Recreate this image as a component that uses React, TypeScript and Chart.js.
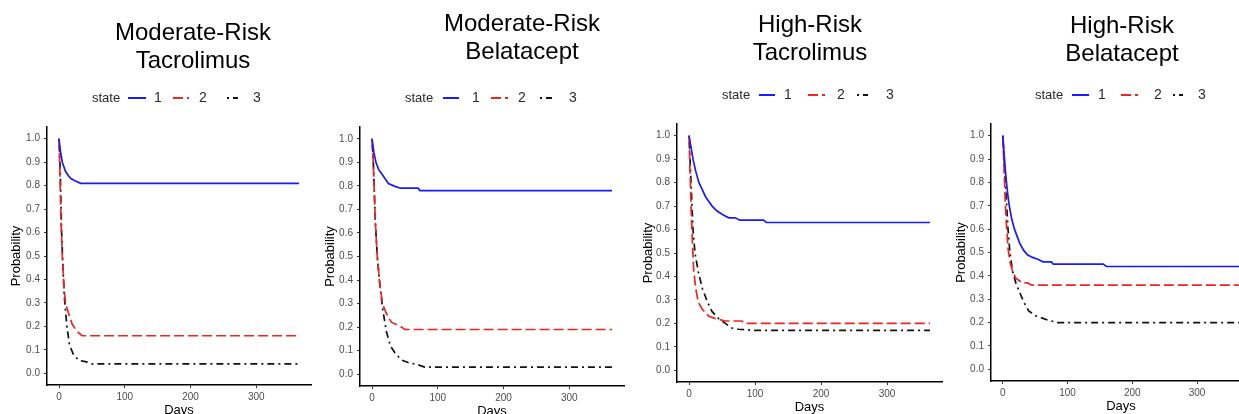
import React, { useEffect, useRef } from "react";
import { Chart, registerables } from "chart.js";

Chart.register(...registerables);

// ---- axis ticks & ranges ----
const X_TICKS = [0, 100, 200, 300];
const Y_TICKS = [0, 0.1, 0.2, 0.3, 0.4, 0.5, 0.6, 0.7, 0.8, 0.9, 1.0];
const X_MIN = -18.25;
const X_MAX = 383.25;
const Y_MIN = -0.05;
const Y_MAX = 1.05;
const STATE_LABELS = ["1", "2", "3"];
const LEGEND_TITLE = "state";
const X_TITLE = "Days";
const Y_TITLE = "Probability";

// ---- Moderate-Risk Tacrolimus ----
const mtDays1 = [0, 2, 5, 10, 15, 18, 25, 33, 365];
const mtProb1 = [1, 0.95, 0.9, 0.86, 0.84, 0.83, 0.82, 0.81, 0.81];
const mtDays2 = [0, 1, 3, 5, 8, 10, 14, 20, 27, 35, 365];
const mtProb2 = [1, 0.9, 0.65, 0.5, 0.35, 0.3, 0.26, 0.21, 0.18, 0.16, 0.16];
const mtDays3 = [0, 2, 4, 6, 8, 12, 16, 22, 30, 40, 50, 365];
const mtProb3 = [1, 0.85, 0.6, 0.45, 0.33, 0.2, 0.12, 0.08, 0.055, 0.05, 0.04, 0.04];

// ---- Moderate-Risk Belatacept ----
const mbDays1 = [0, 3, 6, 10, 15, 20, 25, 33, 43, 70, 73, 365];
const mbProb1 = [1, 0.94, 0.9, 0.87, 0.85, 0.83, 0.81, 0.8, 0.79, 0.79, 0.78, 0.78];
const mbDays2 = [0, 2, 5, 8, 12, 16, 20, 25, 30, 38, 45, 50, 365];
const mbProb2 = [1, 0.9, 0.65, 0.5, 0.38, 0.3, 0.27, 0.24, 0.22, 0.21, 0.2, 0.19, 0.19];
const mbDays3 = [0, 2, 5, 8, 12, 16, 22, 28, 35, 45, 55, 70, 80, 365];
const mbProb3 = [1, 0.9, 0.65, 0.5, 0.38, 0.28, 0.18, 0.12, 0.09, 0.06, 0.05, 0.04, 0.03, 0.03];

// ---- High-Risk Tacrolimus ----
const htDays1 = [0, 3, 6, 10, 15, 20, 25, 30, 35, 42, 50, 60, 70, 77, 113, 117, 365];
const htProb1 = [1, 0.95, 0.9, 0.85, 0.8, 0.77, 0.74, 0.72, 0.7, 0.68, 0.665, 0.65, 0.65, 0.64, 0.64, 0.63, 0.63];
const htDays2 = [0, 1, 3, 5, 7, 10, 14, 20, 30, 40, 55, 80, 85, 365];
const htProb2 = [1, 0.9, 0.7, 0.55, 0.43, 0.35, 0.29, 0.26, 0.23, 0.22, 0.21, 0.21, 0.2, 0.2];
const htDays3 = [0, 3, 6, 9, 14, 20, 28, 35, 45, 55, 65, 75, 100, 365];
const htProb3 = [1, 0.8, 0.6, 0.5, 0.42, 0.35, 0.29, 0.25, 0.22, 0.2, 0.18, 0.175, 0.17, 0.17];

// ---- High-Risk Belatacept ----
const hbDays1 = [0, 2, 4, 6, 8, 10, 14, 18, 22, 26, 32, 38, 45, 55, 62, 75, 78, 155, 160, 365];
const hbProb1 = [1, 0.92, 0.85, 0.79, 0.74, 0.7, 0.64, 0.6, 0.57, 0.54, 0.51, 0.49, 0.48, 0.47, 0.46, 0.46, 0.45, 0.45, 0.44, 0.44];
const hbDays2 = [0, 2, 4, 6, 8, 11, 15, 20, 25, 30, 38, 45, 365];
const hbProb2 = [1, 0.85, 0.7, 0.6, 0.52, 0.46, 0.42, 0.39, 0.38, 0.37, 0.37, 0.36, 0.36];
const hbDays3 = [0, 2, 4, 6, 8, 11, 15, 20, 26, 32, 40, 50, 60, 70, 85, 365];
const hbProb3 = [1, 0.9, 0.8, 0.7, 0.6, 0.5, 0.42, 0.37, 0.33, 0.29, 0.25, 0.23, 0.22, 0.21, 0.2, 0.2];

const PANEL_TITLES = [
  ["Moderate-Risk", "Tacrolimus"],
  ["Moderate-Risk", "Belatacept"],
  ["High-Risk", "Tacrolimus"],
  ["High-Risk", "Belatacept"],
];

const PANEL_SERIES = [
  [[mtDays1, mtProb1], [mtDays2, mtProb2], [mtDays3, mtProb3]],
  [[mbDays1, mbProb1], [mbDays2, mbProb2], [mbDays3, mbProb3]],
  [[htDays1, htProb1], [htDays2, htProb2], [htDays3, htProb3]],
  [[hbDays1, hbProb1], [hbDays2, hbProb2], [hbDays3, hbProb3]],
];

// ---- styles / layout (page coordinates) ----
const COLORS = ["#1a1aff", "#f02424", "#111111"];
const DASHES = [[], [10, 4], [2, 4, 7, 4]];
const FONT = "'Liberation Sans', Arial, Helvetica, sans-serif";

const LAYOUT = [
  {
    plot: { l: 47, r: 311, t: 127, b: 385 },
    title: { cx: 193, y: [40, 68] },
    legend: { y: 98, state: 92, keys: [[128, 146], [173, 189], [227, 238]], labels: [158, 203, 257] },
    yTitleX: 16,
  },
  {
    plot: { l: 360, r: 624, t: 127, b: 386 },
    title: { cx: 522, y: [31, 59] },
    legend: { y: 98, state: 405, keys: [[443, 459], [491, 508], [540, 552]], labels: [476, 522, 573] },
    yTitleX: 330,
  },
  {
    plot: { l: 677, r: 942, t: 124, b: 382 },
    title: { cx: 810, y: [32, 60] },
    legend: { y: 95, state: 722, keys: [[759, 775], [808, 825], [857, 868]], labels: [788, 841, 890] },
    yTitleX: 648,
  },
  {
    plot: { l: 991, r: 1251, t: 124, b: 381 },
    title: { cx: 1122, y: [33, 61] },
    legend: { y: 95, state: 1035, keys: [[1072, 1089], [1121, 1138], [1173, 1183]], labels: [1102, 1158, 1202] },
    yTitleX: 961,
  },
];

const Y_SCALE_W = 40;
const X_SCALE_H = 20;
const CANVAS_H = 414;

const decorPlugin = {
  id: "panelDecor",
  afterDraw(chart: any, _args: any, opts: any) {
    const { ctx } = chart;
    const L = opts.layout;
    const off = opts.offset;
    ctx.save();
    // title
    ctx.fillStyle = "#000";
    ctx.font = `24px ${FONT}`;
    ctx.textAlign = "center";
    ctx.textBaseline = "alphabetic";
    opts.title.forEach((line: string, i: number) => {
      ctx.fillText(line, L.title.cx - off, L.title.y[i]);
    });
    // legend
    ctx.font = `13px ${FONT}`;
    ctx.fillStyle = "#2a2a2a";
    ctx.textAlign = "left";
    ctx.textBaseline = "middle";
    ctx.fillText(LEGEND_TITLE, L.legend.state - off, L.legend.y);
    STATE_LABELS.forEach((lab, i) => {
      const [x1, x2] = L.legend.keys[i];
      ctx.beginPath();
      ctx.setLineDash(DASHES[i]);
      ctx.strokeStyle = COLORS[i];
      ctx.lineWidth = 2;
      ctx.moveTo(x1 - off, L.legend.y);
      ctx.lineTo(x2 - off, L.legend.y);
      ctx.stroke();
      ctx.setLineDash([]);
      ctx.fillStyle = "#2a2a2a";
      ctx.textAlign = "center";
      ctx.font = `14px ${FONT}`;
      ctx.fillText(lab, L.legend.labels[i] - off, L.legend.y);
    });
    // axis titles
    const ca = chart.chartArea;
    ctx.fillStyle = "#000";
    ctx.font = `13px ${FONT}`;
    ctx.textAlign = "center";
    ctx.textBaseline = "middle";
    ctx.fillText(X_TITLE, (ca.left + ca.right) / 2, ca.bottom + 25);
    ctx.translate(L.yTitleX - off, (ca.top + ca.bottom) / 2);
    ctx.rotate(-Math.PI / 2);
    ctx.fillText(Y_TITLE, 0, 0);
    ctx.restore();
  },
};

function Panel({ index }: { index: number }) {
  const ref = useRef<HTMLCanvasElement | null>(null);
  const L = LAYOUT[index];
  const canvasLeft = L.plot.l - 47;
  const canvasW = L.plot.r - canvasLeft + 5;

  useEffect(() => {
    if (!ref.current) return;
    const datasets = PANEL_SERIES[index].map(([days, probs], i) => ({
      label: STATE_LABELS[i],
      data: days.map((d, k) => ({ x: d, y: probs[k] })),
      borderColor: COLORS[i],
      backgroundColor: COLORS[i],
      borderWidth: 1.7,
      borderDash: DASHES[i],
      pointRadius: 0,
      tension: 0,
      fill: false,
    }));
    const chart = new Chart(ref.current, {
      type: "line",
      data: { datasets },
      plugins: [decorPlugin],
      options: {
        animation: false,
        responsive: false,
        devicePixelRatio: 1,
        layout: {
          padding: {
            left: L.plot.l - canvasLeft - Y_SCALE_W,
            right: canvasW - (L.plot.r - canvasLeft),
            top: L.plot.t,
            bottom: CANVAS_H - L.plot.b - X_SCALE_H,
          },
        },
        plugins: {
          legend: { display: false },
          title: { display: false },
          tooltip: { enabled: false },
          panelDecor: { layout: L, offset: canvasLeft, title: PANEL_TITLES[index] },
        } as any,
        scales: {
          x: {
            type: "linear",
            min: X_MIN,
            max: X_MAX,
            afterBuildTicks: (s: any) => {
              s.ticks = X_TICKS.map((v) => ({ value: v }));
            },
            afterFit: (s: any) => {
              s.height = X_SCALE_H;
            },
            ticks: {
              callback: (v: any) => String(v),
              color: "#4d4d4d",
              font: { size: 10, family: FONT },
              padding: 3,
              maxRotation: 0,
              autoSkip: false,
            },
            grid: { drawOnChartArea: false, drawTicks: true, tickLength: 3, color: "#333", lineWidth: 1 },
            border: { display: true, color: "#000", width: 1.5 },
          },
          y: {
            type: "linear",
            min: Y_MIN,
            max: Y_MAX,
            afterBuildTicks: (s: any) => {
              s.ticks = Y_TICKS.map((v) => ({ value: v }));
            },
            afterFit: (s: any) => {
              s.width = Y_SCALE_W;
            },
            ticks: {
              callback: (v: any) => Number(v).toFixed(1),
              color: "#4d4d4d",
              font: { size: 10, family: FONT },
              padding: 4,
              autoSkip: false,
            },
            grid: { drawOnChartArea: false, drawTicks: true, tickLength: 3, color: "#333", lineWidth: 1 },
            border: { display: true, color: "#000", width: 1.5 },
          },
        },
      } as any,
    });
    return () => chart.destroy();
  }, [index]);

  return (
    <canvas
      ref={ref}
      width={canvasW}
      height={CANVAS_H}
      style={{ position: "absolute", left: canvasLeft, top: 0, width: canvasW, height: CANVAS_H }}
    />
  );
}

export default function App() {
  return (
    <div
      style={{
        position: "fixed",
        left: 0,
        top: 0,
        width: 1239,
        height: 414,
        overflow: "hidden",
        background: "#fff",
      }}
    >
      {PANEL_TITLES.map((_, i) => (
        <Panel key={i} index={i} />
      ))}
    </div>
  );
}
